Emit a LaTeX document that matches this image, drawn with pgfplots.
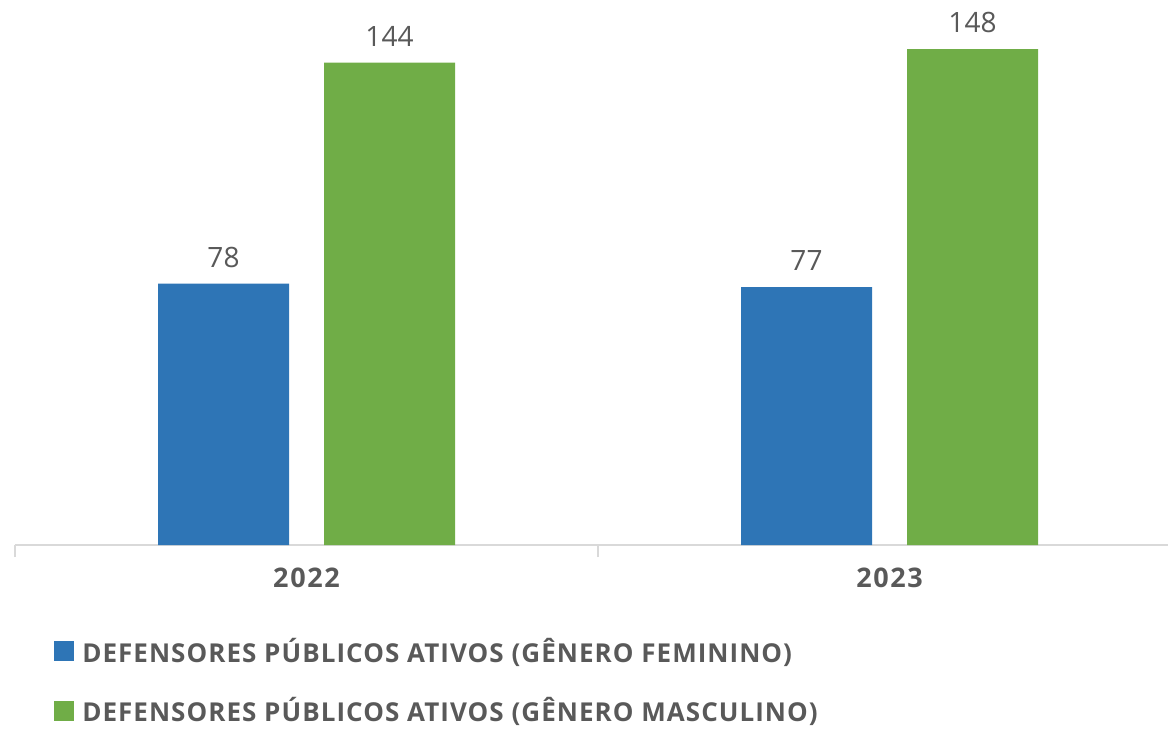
\documentclass[border=0pt]{standalone}
\usepackage{fontspec}
\setmainfont{Open Sans}
\newfontfamily\widefont[LetterSpace=6]{Open Sans}
\newfontfamily\legfont[LetterSpace=4]{Open Sans}
\usepackage{pgfplots}
\pgfplotsset{compat=1.18}
\definecolor{fem}{HTML}{2E75B6}
\definecolor{masc}{HTML}{70AD47}
\definecolor{txt}{HTML}{595959}
\definecolor{axisgray}{HTML}{D9D9D9}

\begin{document}
\begin{tikzpicture}
% picture frame: 1168x729 px at 0.5pt per px, axis origin at px (15,545)
\useasboundingbox (-7.5pt,-92pt) rectangle (576.5pt,272.5pt);
\begin{axis}[
    scale only axis,
    width=576.5pt, height=272.5pt,
    ybar,
    bar width=65.5pt,
    xmin=-0.5, xmax=1.4777,
    ymin=0, ymax=162.7,
    axis x line*=bottom,
    axis y line=none,
    x axis line style={axisgray, line width=1pt},
    xtick={0,1},
    xticklabels={2022,2023},
    major tick length=0pt,
    minor xtick={-0.5,0.5},
    minor tick length=6pt,
    tick align=outside,
    minor tick style={axisgray, line width=1pt},
    xticklabel style={font=\widefont\bfseries\fontsize{13.5}{13.5}\selectfont, text=txt,
        anchor=north, inner sep=0pt, yshift=-11.5pt},
    /pgf/number format/assume math mode=true,
    nodes near coords,
    nodes near coords style={font=\fontsize{14}{14}\selectfont, text=txt,
        anchor=south, inner sep=0pt, yshift=8pt},
    legend style={at={(axis description cs:0.0285,-0.155)}, anchor=north west,
        draw=none, fill=none, font=\legfont\bfseries\fontsize{13}{13}\selectfont, text=txt,
        row sep=12pt, cells={anchor=west}},
    legend image code/.code={\fill[#1] (0pt,-5pt) rectangle (10pt,5pt); \path (12pt,0pt);},
]
\addplot[fill=fem, draw=none, bar shift=-41.5pt] coordinates {(0,78) (1,77)};
\addlegendentry{DEFENSORES PÚBLICOS ATIVOS (GÊNERO FEMININO)}
\addplot[fill=masc, draw=none, bar shift=41.5pt] coordinates {(0,144) (1,148)};
\addlegendentry{DEFENSORES PÚBLICOS ATIVOS (GÊNERO MASCULINO)}
\end{axis}
\end{tikzpicture}
\end{document}
